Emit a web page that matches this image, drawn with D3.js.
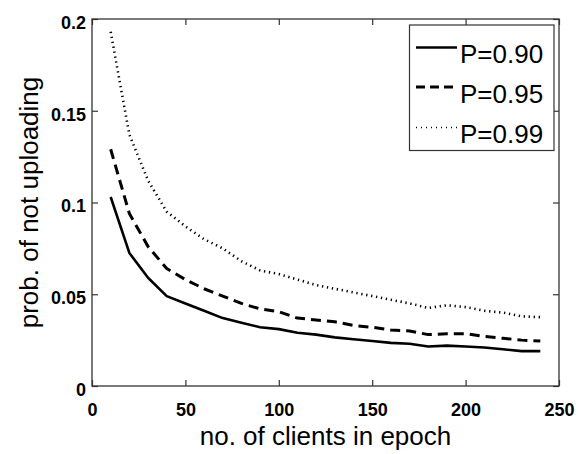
<!DOCTYPE html>
<html>
<head>
<meta charset="utf-8">
<script src="https://cdn.jsdelivr.net/npm/d3@7"></script>
<style>
  body { margin: 0; background: #fff; }
  svg { font-family: "Liberation Sans", Arial, Helvetica, sans-serif; }
  .tick text { font-weight: bold; font-size: 18px; fill: #000; }
  .tick line { stroke: #333; stroke-width: 1.2; }
</style>
</head>
<body>
<script>
// number of clients in epoch
var clients = [10, 20, 30, 40, 50, 60, 70, 80, 90, 100, 110, 120,
               130, 140, 150, 160, 170, 180, 190, 200, 210, 220, 230, 240];

var p90 = [0.103, 0.0725, 0.059, 0.049, 0.045, 0.041, 0.037, 0.0345, 0.032, 0.031, 0.029, 0.028,
           0.0265, 0.0255, 0.0245, 0.0235, 0.023, 0.0215, 0.022, 0.0215, 0.021, 0.020, 0.019, 0.019];
var p95 = [0.129, 0.094, 0.076, 0.064, 0.058, 0.053, 0.049, 0.045, 0.042, 0.0405, 0.037, 0.036,
           0.035, 0.033, 0.032, 0.0305, 0.030, 0.028, 0.0285, 0.0285, 0.027, 0.026, 0.025, 0.0245];
var p99 = [0.193, 0.137, 0.112, 0.095, 0.087, 0.080, 0.075, 0.068, 0.063, 0.061, 0.058, 0.055,
           0.053, 0.051, 0.049, 0.047, 0.045, 0.0425, 0.044, 0.043, 0.041, 0.040, 0.038, 0.0375];

var seriesNames = ["P=0.90", "P=0.95", "P=0.99"];
var xTicks = [0, 50, 100, 150, 200, 250];
var yTicks = [0, 0.05, 0.1, 0.15, 0.2];

var w = 578, h = 454;
var plotL = 92, plotR = 559, plotT = 19, plotB = 386;

var x = d3.scaleLinear().domain([0, 250]).range([plotL, plotR]);
var y = d3.scaleLinear().domain([0, 0.2]).range([plotB, plotT]);

var svg = d3.select("body").append("svg")
    .attr("width", w)
    .attr("height", h);

// axes, ticks pointing inward
svg.append("g")
    .attr("transform", "translate(0," + plotB + ")")
    .call(d3.axisBottom(x).tickValues(xTicks).tickSizeInner(-6).tickSizeOuter(0).tickPadding(17)
        .tickFormat(d3.format("d")))
    .call(function(g) { g.select(".domain").remove(); });

svg.append("g")
    .attr("transform", "translate(" + plotL + ",0)")
    .call(d3.axisLeft(y).tickValues(yTicks).tickSizeInner(-6).tickSizeOuter(0).tickPadding(6)
        .tickFormat(function(d) { return d === 0 ? "0" : String(+d.toFixed(2)); }))
    .call(function(g) {
        g.select(".domain").remove();
        g.selectAll(".tick text").attr("dy", "0.52em");
    });

// mirrored ticks on top and right
svg.append("g")
    .attr("transform", "translate(0," + plotT + ")")
    .call(d3.axisTop(x).tickValues(xTicks).tickSizeInner(-6).tickSizeOuter(0).tickFormat(""))
    .call(function(g) { g.select(".domain").remove(); });

svg.append("g")
    .attr("transform", "translate(" + plotR + ",0)")
    .call(d3.axisRight(y).tickValues(yTicks).tickSizeInner(-6).tickSizeOuter(0).tickFormat(""))
    .call(function(g) { g.select(".domain").remove(); });

// box
svg.append("rect")
    .attr("x", plotL).attr("y", plotT)
    .attr("width", plotR - plotL).attr("height", plotB - plotT)
    .attr("fill", "none")
    .attr("stroke", "#333")
    .attr("stroke-width", 1.3);

var styles = [
    { dash: null, width: 2.6 },
    { dash: "10,6", width: 3 },
    { dash: "1.3,3.7", width: 2.6 }
];
var allSeries = [p90, p95, p99];

var line = d3.line()
    .x(function(d, i) { return x(clients[i]); })
    .y(function(d) { return y(d); });

allSeries.forEach(function(s, k) {
    svg.append("path")
        .datum(s)
        .attr("d", line)
        .attr("fill", "none")
        .attr("stroke", "#000")
        .attr("stroke-width", styles[k].width)
        .attr("stroke-dasharray", styles[k].dash)
        .attr("stroke-linejoin", "round");
});

// legend
var legend = svg.append("g");
legend.append("rect")
    .attr("x", 409.5).attr("y", 25)
    .attr("width", 144.5).attr("height", 125.5)
    .attr("fill", "#fff")
    .attr("stroke", "#333")
    .attr("stroke-width", 1.2);

var legendY = [47.5, 87, 127.5];
var legendStyles = [
    { dash: null, width: 2.6 },
    { dash: "9,5", width: 2.8 },
    { dash: "1,4", width: 1.4 }
];
seriesNames.forEach(function(name, k) {
    legend.append("line")
        .attr("x1", 416).attr("x2", 457)
        .attr("y1", legendY[k]).attr("y2", legendY[k])
        .attr("stroke", "#000")
        .attr("stroke-width", legendStyles[k].width)
        .attr("stroke-dasharray", legendStyles[k].dash);
    legend.append("text")
        .attr("x", 460)
        .attr("y", legendY[k] + 15.5)
        .attr("font-size", "26px")
        .text(name);
});

// X axis label
svg.append("text")
    .attr("text-anchor", "middle")
    .attr("x", (plotL + plotR) / 2)
    .attr("y", 445)
    .attr("font-size", "26px")
    .text("no. of clients in epoch");

// Y axis label
svg.append("text")
    .attr("text-anchor", "middle")
    .attr("transform", "translate(38," + (plotT + plotB) / 2 + ") rotate(-90)")
    .attr("font-size", "26px")
    .text("prob. of not uploading");
</script>
</body>
</html>
